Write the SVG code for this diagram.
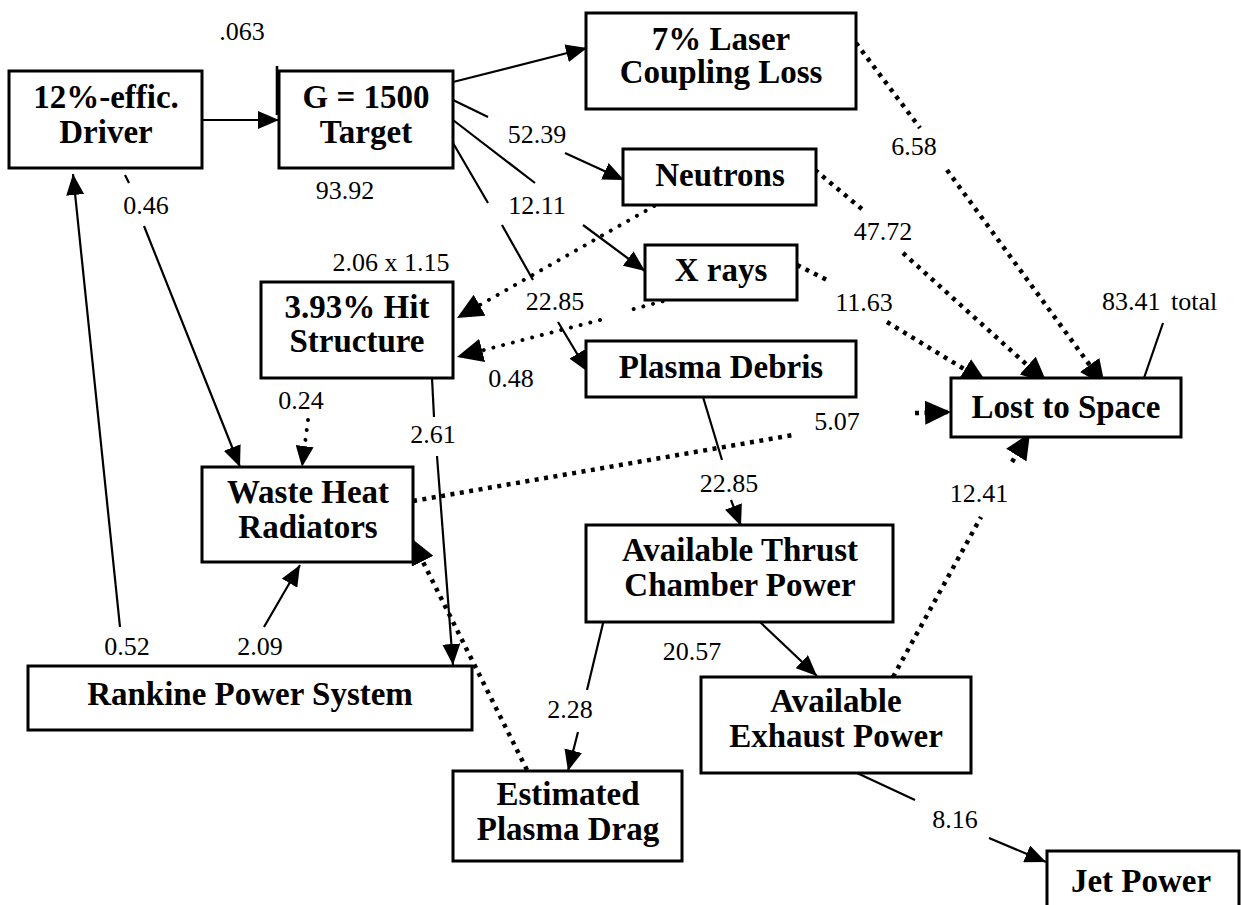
<svg xmlns="http://www.w3.org/2000/svg" width="1241" height="905" viewBox="0 0 1241 905">
<style>
.box{fill:#fff;stroke:#000;stroke-width:3}
.nt{font-family:"Liberation Serif","Times New Roman",serif;font-weight:bold;font-size:33px;text-anchor:middle;fill:#000}
.lb{font-family:"Liberation Serif","Times New Roman",serif;font-size:26px;text-anchor:middle;fill:#000}
.s{fill:none;stroke:#000;stroke-width:2.2}
.d{fill:none;stroke:#000;stroke-width:4.5;stroke-dasharray:4 5.5}
.r{fill:none;stroke:#000;stroke-width:4;stroke-linecap:round;stroke-dasharray:0.01 10}
</style>
<defs>
<marker id="ah" markerUnits="userSpaceOnUse" viewBox="0 0 22 18" markerWidth="22" markerHeight="18" refX="21" refY="9" orient="auto"><path d="M0,0 L21,9 L0,18 z" fill="#000"/></marker>
<marker id="ahb" markerUnits="userSpaceOnUse" viewBox="0 0 27 24" markerWidth="27" markerHeight="24" refX="26" refY="12" orient="auto"><path d="M0,0 L26,12 L0,24 z" fill="#000"/></marker>
</defs>
<rect width="1241" height="905" fill="#fff"/>

<g id="connectors">
<path class="s" d="M202,120 L279,120" marker-end="url(#ah)"/>
<path class="s" d="M277,66 L277,115" style="stroke-width:2.6"/>
<path class="s" d="M453,82 L587,48" marker-end="url(#ah)"/>
<path class="s" d="M453,100 L488,117 M565,153 L624,180" marker-end="url(#ah)"/>
<path class="s" d="M453,120 L535,183 M583,225 L645,271" marker-end="url(#ah)"/>
<path class="s" d="M453,143 L488,203 M502,225 L533,280 M558,322 L588,372" marker-end="url(#ah)"/>
<path class="r" d="M663,201 L457,318" marker-end="url(#ahb)"/>
<path class="r" d="M682,296 L630,310 M600,320 L457,357" marker-end="url(#ahb)"/>
<path class="d" d="M856,43 L920,128 M947,170 L1105,386" marker-end="url(#ahb)"/>
<path class="d" d="M815,170 L863,210 M903,253 L1047,383" marker-end="url(#ahb)"/>
<path class="d" d="M797,265 L827,280 M887,322 L987,383" marker-end="url(#ahb)"/>
<path class="s" d="M1163,323 L1144,378"/>
<path class="d" d="M413,501 L793,435 M915,413 L951,412" marker-end="url(#ahb)"/>
<path class="r" d="M308,420 L302,467" marker-end="url(#ah)"/>
<path class="s" d="M125,175 L129,183 M144,226 L240,467" marker-end="url(#ah)"/>
<path class="s" d="M432,378 L434,417 M437,456 L453,665" marker-end="url(#ah)"/>
<path class="d" d="M527,770 L411,538" marker-end="url(#ahb)"/>
<path class="s" d="M703,397 L722,460 M731,500 L741,526" marker-end="url(#ah)"/>
<path class="s" d="M760,622 L817,676" marker-end="url(#ah)"/>
<path class="s" d="M605,615 L587,690 M578,732 L568,771" marker-end="url(#ah)"/>
<path class="d" d="M893,677 L981,517 M1012,462 L1030,433" marker-end="url(#ahb)"/>
<path class="s" d="M857,773 L915,800 M989,838 L1046,862" marker-end="url(#ah)"/>
<path class="s" d="M125,667 L125,673 M120,627 L73,174" marker-end="url(#ah)"/>
<path class="s" d="M244,667 L239,677 M264,627 L300,565" marker-end="url(#ah)"/>
</g>

<g id="edge-labels">
<text class="lb" x="242" y="40">.063</text>
<text class="lb" x="345" y="199">93.92</text>
<text class="lb" x="537" y="143">52.39</text>
<text class="lb" x="537" y="214">12.11</text>
<text class="lb" x="391" y="271">2.06 x 1.15</text>
<text class="lb" x="555" y="310">22.85</text>
<text class="lb" x="511" y="387">0.48</text>
<text class="lb" x="146" y="214">0.46</text>
<text class="lb" x="301" y="409">0.24</text>
<text class="lb" x="433" y="443">2.61</text>
<text class="lb" x="914" y="155">6.58</text>
<text class="lb" x="883" y="240">47.72</text>
<text class="lb" x="864" y="311">11.63</text>
<text class="lb" x="1102" y="310" style="text-anchor:start;word-spacing:4px">83.41 total</text>
<text class="lb" x="837" y="430">5.07</text>
<text class="lb" x="729" y="492">22.85</text>
<text class="lb" x="979" y="502">12.41</text>
<text class="lb" x="692" y="660">20.57</text>
<text class="lb" x="127" y="655">0.52</text>
<text class="lb" x="260" y="655">2.09</text>
<text class="lb" x="570" y="718">2.28</text>
<text class="lb" x="955" y="828">8.16</text>
</g>

<g id="driver"><rect class="box" x="9" y="71" width="193" height="97"/><text class="nt" x="106" y="108">12%-effic.</text><text class="nt" x="106" y="143">Driver</text></g>
<g id="target"><rect class="box" x="279" y="71" width="174" height="97"/><text class="nt" x="366" y="108">G = 1500</text><text class="nt" x="366" y="143">Target</text></g>
<g id="laser-loss"><rect class="box" x="586" y="13" width="270" height="96"/><text class="nt" x="721" y="50">7% Laser</text><text class="nt" x="721" y="83">Coupling Loss</text></g>
<g id="neutrons"><rect class="box" x="623" y="149" width="193" height="56"/><text class="nt" x="720" y="186">Neutrons</text></g>
<g id="xrays"><rect class="box" x="645" y="245" width="152" height="55"/><text class="nt" x="721" y="281">X rays</text></g>
<g id="hit-structure"><rect class="box" x="261" y="282" width="192" height="96"/><text class="nt" x="357" y="318">3.93% Hit</text><text class="nt" x="357" y="352">Structure</text></g>
<g id="plasma-debris"><rect class="box" x="586" y="341" width="270" height="56"/><text class="nt" x="721" y="378">Plasma Debris</text></g>
<g id="lost-to-space"><rect class="box" x="951" y="378" width="230" height="59"/><text class="nt" x="1066" y="418">Lost to Space</text></g>
<g id="waste-heat"><rect class="box" x="202" y="467" width="211" height="95"/><text class="nt" x="308" y="503">Waste Heat</text><text class="nt" x="308" y="538">Radiators</text></g>
<g id="thrust-chamber"><rect class="box" x="586" y="525" width="307" height="97"/><text class="nt" x="740" y="561">Available Thrust</text><text class="nt" x="740" y="596">Chamber Power</text></g>
<g id="rankine"><rect class="box" x="28" y="666" width="444" height="64"/><text class="nt" x="250" y="705">Rankine Power System</text></g>
<g id="exhaust"><rect class="box" x="701" y="677" width="270" height="96"/><text class="nt" x="836" y="712">Available</text><text class="nt" x="836" y="747">Exhaust Power</text></g>
<g id="plasma-drag"><rect class="box" x="453" y="771" width="229" height="90"/><text class="nt" x="568" y="805">Estimated</text><text class="nt" x="568" y="840">Plasma Drag</text></g>
<g id="jet-power"><rect class="box" x="1047" y="851" width="192" height="80"/><text class="nt" x="1141" y="892">Jet Power</text></g>
</svg>
